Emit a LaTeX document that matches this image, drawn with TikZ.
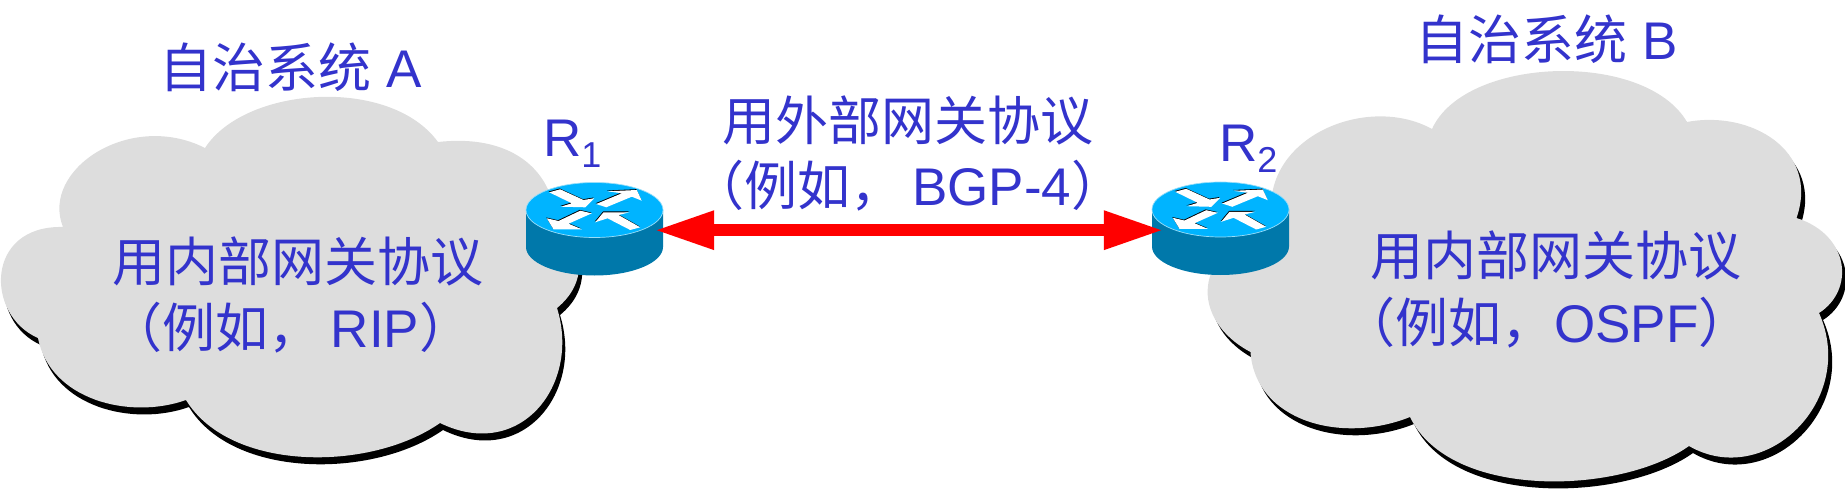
\documentclass[tikz,border=0pt]{standalone}
\usepackage{fontspec}
\usetikzlibrary{arrows.meta}
\setmainfont{Liberation Sans}
\newfontfamily\cjk{Noto Sans CJK SC}
\definecolor{txtblue}{RGB}{51,51,204}
\definecolor{cloudgray}{RGB}{221,221,221}
\definecolor{rtop}{RGB}{0,180,255}
\definecolor{rside}{RGB}{0,120,170}
\newcommand{\Cn}[1]{{\cjk #1}}
\newcommand{\Sb}[1]{\raisebox{-10.5pt}{\fontsize{36}{40}\selectfont #1}}
\newcommand{\cloudApath}{(205,148) .. controls (245,86) and (390,76) .. (438,142)
 .. controls (500,135) and (540,160) .. (552,200) .. controls (590,250) and (585,285) .. (557,308)
 .. controls (581,385) and (520,462) .. (440,423)
 .. controls (370,472) and (230,472) .. (186,400)
 .. controls (130,420) and (50,400) .. (38,338)
 .. controls (-15,315) and (-15,225) .. (63,227)
 .. controls (40,170) and (130,110) .. (205,148) -- cycle}
\newcommand{\cloudBpath}{(1432,129) .. controls (1465,56) and (1645,50) .. (1687,122)
 .. controls (1750,110) and (1820,150) .. (1796.5,218)
 .. controls (1850,235) and (1855,290) .. (1819,313)
 .. controls (1858,400) and (1765,490) .. (1689,446)
 .. controls (1620,495) and (1450,500) .. (1410,417)
 .. controls (1340,445) and (1255,420) .. (1250.5,352)
 .. controls (1190,320) and (1190,250) .. (1273,225)
 .. controls (1255,140) and (1365,92) .. (1432,129) -- cycle}
\tikzset{
 lbl/.style={text=txtblue,font=\fontsize{53}{60}\selectfont,inner sep=0pt,anchor=center},
 rarrow/.style={fill=white,draw=none},
 rshadow/.style={fill=black,draw=none},
 link/.style={draw=red,line width=12pt,{Triangle[length=60pt,width=36pt]}-{Triangle[length=60pt,width=36pt]}},
 routerbox/.style={minimum width=119pt,minimum height=40pt,inner sep=0pt,draw=none},
 pics/router/.style={code={
  \fill[rside] (-68.5,0) -- (-68.5,37) .. controls (-68.5,52.7) and (-37.8,65.5) .. (0,65.5) .. controls (37.8,65.5) and (68.5,52.7) .. (68.5,37) -- (68.5,0) -- cycle;
  \fill[rtop,draw=cyan!40!white,line width=0.7pt] (0,0) ellipse[x radius=68.5,y radius=27.5];
  \foreach \sty/\dx/\dy in {rshadow/-0.5/-0.8,rarrow/0/0}{
   \begin{scope}[shift={(\dx,\dy)}]
   \path[\sty] (-45.3,-17.7) -- (-34.3,-20.7) -- (-11,-10) -- (-0.3,-11.7) -- (-9.3,-2.7) -- (-33.7,-3.3) -- (-22.7,-6.7) -- cycle;
   \path[\sty] (1.7,-6) -- (27.3,-16.7) -- (13,-18.7) -- (42.3,-20) -- (47.3,-9.3) -- (37.3,-13.3) -- (11.7,-2.7) -- cycle;
   \path[\sty] (-47.7,8.3) -- (-36,11) -- (-14.3,.7) -- (-2.7,3.3) -- (-26,13.7) -- (-12.7,19.3) -- (-41,19.3) -- cycle;
   \path[\sty] (.7,12.3) -- (9,2.3) -- (35,2.3) -- (24,5) -- (45.7,17.3) -- (35.7,20) -- (13,8.3) -- cycle;
   \end{scope}}
 }}
}
\begin{document}
\begin{tikzpicture}[x=1pt,y=-1pt]
\useasboundingbox (0,0) rectangle (1845,489);
% clouds
\fill[black,shift={(3,7)}] \cloudApath;
\fill[cloudgray] \cloudApath;
\fill[black,shift={(4,7)}] \cloudBpath;
\fill[cloudgray] \cloudBpath;
% routers
\node[routerbox] (r1) at (594.5,210) {};
\node[routerbox] (r2) at (1223.5,210) {};
\pic at (594.5,210) {router};
\pic at (1220.5,209.5) {router};
% link
\draw[link] (r1.south east) -- (r2.south west);
% text
\node[lbl] (ta) at (291,67) {\Cn{自治系统} A};
\node[lbl] (tb) at (1547,39) {\Cn{自治系统} B};
\node[lbl] (m1) at (908,120) {\Cn{用外部网关协议}};
\node[lbl] (m2) at (908,186) {\Cn{（例如，}\,BGP-4\Cn{）}};
\node[lbl] (ia1) at (298,261) {\Cn{用内部网关协议}};
\node[lbl] (ia2) at (291,328) {\Cn{（例如，}\,RIP\Cn{）}};
\node[lbl] (ib1) at (1556,255) {\Cn{用内部网关协议}};
\node[lbl] (ib2) at (1547,323) {\Cn{（例如，}OSPF\Cn{）}};
\node[lbl,anchor=base west] (r1l) at (543,157) {R\Sb{1}};
\node[lbl,anchor=base west] (r2l) at (1219,162) {R\Sb{2}};
\end{tikzpicture}
\end{document}
